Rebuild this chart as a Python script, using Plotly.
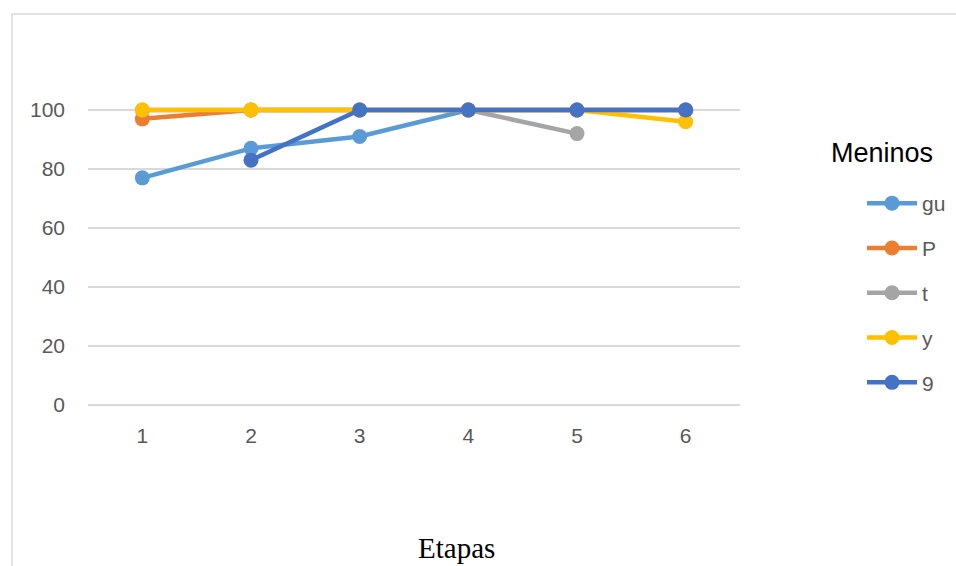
import plotly.graph_objects as go

etapas = [1, 2, 3, 4, 5, 6]
gu = [77, 87, 91, 100, 100, 100]
p = [97, 100, 100, 100, 100, 100]
t = [100, 100, 100, 100, 92, None]
y = [100, 100, 100, 100, 100, 96]
nove = [None, 83, 100, 100, 100, 100]

series = [("gu", gu, "#5B9BD5"), ("P", p, "#ED7D31"), ("t", t, "#A5A5A5"),
          ("y", y, "#FFC000"), ("9", nove, "#4472C4")]
yticks = [0, 20, 40, 60, 80, 100]

fig = go.Figure()
for name, vals, col in series:
    fig.add_trace(go.Scatter(x=etapas, y=vals, name=name, mode="lines+markers",
                             line=dict(color=col, width=4.5),
                             marker=dict(color=col, size=15),
                             legendgroup=name, connectgaps=False))

L, R, T, B = 88, 740, 51, 406
W, H = 956, 566

def px(xp):
    return (xp - L) / (R - L)

def py(yp):
    return (B - yp) / (B - T)

fig.add_shape(type="rect", xref="paper", yref="paper",
              x0=px(12), x1=px(975), y0=py(14), y1=py(585),
              line=dict(color="#d9d9d9", width=1.5), layer="below")

fig.add_annotation(text="Etapas", xref="paper", yref="paper",
                   x=px(456), y=py(548), xanchor="center", yanchor="middle",
                   showarrow=False,
                   font=dict(family="Liberation Sans" if False else "Liberation Serif",
                             size=29, color="#000000"))

fig.add_annotation(text="Meninos", xref="paper", yref="paper",
                   x=px(829), y=py(153), xanchor="left", yanchor="middle",
                   showarrow=False,
                   font=dict(family="Liberation Sans", size=27, color="#000000"))

fig.update_layout(
    width=W, height=H,
    margin=dict(l=L, r=W - R, t=T, b=H - B, autoexpand=False),
    plot_bgcolor="white", paper_bgcolor="white",
    font=dict(family="Liberation Sans", size=21, color="#595959"),
    xaxis=dict(range=[0.5, 6.5], tickvals=etapas, showgrid=False, zeroline=False,
               showline=False, ticks="", ticklabelstandoff=15,
               tickfont=dict(size=21, color="#595959")),
    yaxis=dict(range=[-0.34, 120], tickvals=yticks, showgrid=True, gridcolor="#d9d9d9",
               gridwidth=1.5, zeroline=True, zerolinecolor="#d9d9d9", zerolinewidth=1.5,
               showline=False, ticks="", ticklabelstandoff=22,
               tickfont=dict(size=21, color="#595959")),
    legend=dict(x=px(862), y=py(183), xanchor="left", yanchor="top",
                font=dict(size=21, color="#595959"),
                tracegroupgap=14.5, itemwidth=50, bgcolor="rgba(0,0,0,0)"),
    showlegend=True,
)

fig.write_html("out.html", config={"displayModeBar": False},
               post_script="document.body.style.margin='0';")
